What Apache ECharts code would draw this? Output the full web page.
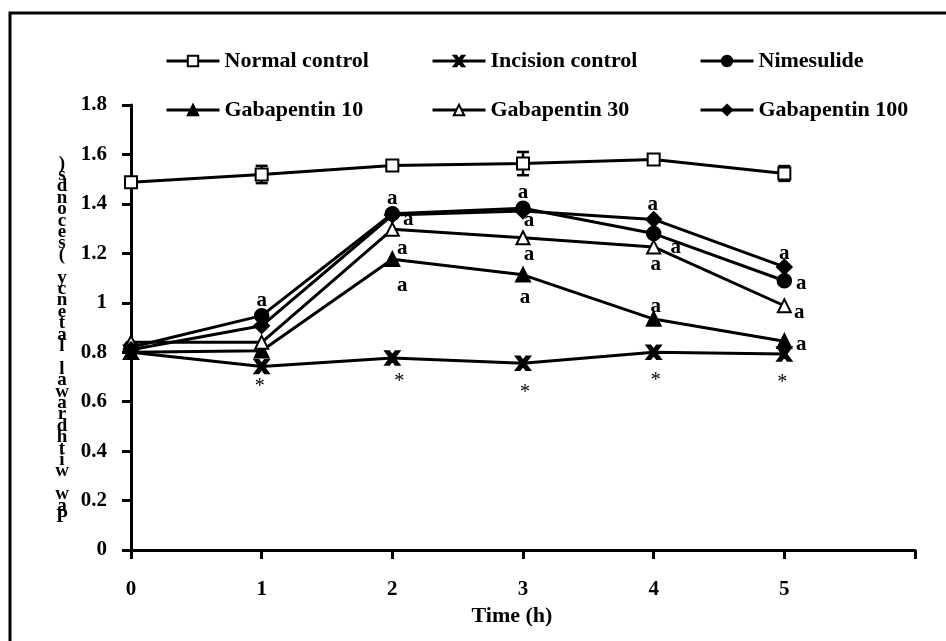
<!DOCTYPE html>
<html>
<head>
<meta charset="utf-8">
<script src="https://cdn.jsdelivr.net/npm/echarts@6/dist/echarts.min.js"></script>
<style>
  html, body { margin: 0; padding: 0; background: #fff; }
  #chart { width: 946px; height: 641px; }
</style>
</head>
<body>
<div id="chart"></div>
<script>
// 数据
var xHours = [0, 1, 2, 3, 4, 5];
var normalControl = [1.488, 1.519, 1.555, 1.563, 1.580, 1.523];
var normalErr = [0.01, 0.035, 0.02, 0.047, 0.015, 0.03];
var incisionControl = [0.80, 0.742, 0.777, 0.755, 0.800, 0.793];
var nimesulide = [0.82, 0.948, 1.360, 1.382, 1.280, 1.089];
var gaba10 = [0.80, 0.806, 1.176, 1.113, 0.934, 0.844];
var gaba30 = [0.84, 0.840, 1.297, 1.263, 1.226, 0.988];
var gaba100 = [0.81, 0.907, 1.355, 1.371, 1.337, 1.145];
// 显著性标记
var incisionMarks = ['', '*', '*', '*', '*', '*'];
var nimMarks = ['', 'a', 'a', 'a', 'a', 'a'];
var gaba10Marks = ['', '', 'a', 'a', 'a', 'a'];
var gaba30Marks = ['', '', 'a', 'a', 'a', 'a'];
var gaba100Marks = ['', '', 'a', 'a', 'a', 'a'];

var FONT = '"Liberation Serif", "Times New Roman", serif';
var yTitle = 'Paw withdrawal latency (seconds)';

// 标记相对数据点的偏移（样式）
var incisionOff = [null, [-2, 20], [7, 24], [2, 29], [2, 29], [-2, 29]];
var nimOff = [null, [0, -15], [0, -15], [0, -16], [22, 14], [17, 3]];
var gaba10Off = [null, null, [10, 26], [2, 23], [2, -13], [17, 3]];
var gaba30Off = [null, null, [10, 19], [6, 17], [2, 18], [15, 7]];
var gaba100Off = [null, null, [16, 5], [6, 10], [-1, -15], [0, -13]];

function buildData(values, marks, offsets) {
    return values.map(function (v, i) {
        var item = { value: [xHours[i], v] };
        if (marks[i]) {
            var star = marks[i] === '*';
            item.label = {
                show: true,
                formatter: marks[i],
                position: 'inside',
                offset: offsets[i],
                color: '#000',
                fontFamily: FONT,
                fontWeight: star ? 'normal' : 'bold',
                fontSize: star ? 20 : 21
            };
        }
        return item;
    });
}

function lineSeries(name, values, symbol, size, marks, offsets) {
    return {
        name: name,
        type: 'line',
        data: buildData(values, marks, offsets),
        symbol: symbol,
        symbolSize: size,
        showAllSymbol: true,
        lineStyle: { color: '#000', width: 3 },
        itemStyle: { color: '#000', borderColor: '#000', borderWidth: 2.5 },
        label: { show: false },
        emphasis: { disabled: true },
        z: 3
    };
}

var noMarks = ['', '', '', '', '', ''];
var noOff = [null, null, null, null, null, null];
var xPath = 'path://M0,0 L3,0 L6,4 L9,0 L12,0 L7.5,6 L12,12 L9,12 L6,8 L3,12 L0,12 L4.5,6 Z';

var legendCommon = {
    orient: 'vertical',
    top: 45,
    itemWidth: 53,
    itemHeight: 13,
    itemGap: 27,
    selectedMode: false,
    lineStyle: { width: 3, color: '#000' },
    textStyle: { fontFamily: FONT, fontWeight: 'bold', fontSize: 22, color: '#000', lineHeight: 22 }
};

var chart = echarts.init(document.getElementById('chart'), null, { renderer: 'canvas' });
var option = {
    backgroundColor: '#fff',
    animation: false,
    grid: { left: 131, right: 31, top: 105, bottom: 91, outerBoundsMode: 'none' },
    legend: [
        Object.assign({}, legendCommon, { left: 160, data: ['Normal control', 'Gabapentin 10'] }),
        Object.assign({}, legendCommon, { left: 426, data: ['Incision control', 'Gabapentin 30'] }),
        Object.assign({}, legendCommon, { left: 694, data: ['Nimesulide', 'Gabapentin 100'] })
    ],
    xAxis: {
        type: 'value',
        min: 0,
        max: 6,
        interval: 1,
        name: 'Time (h)',
        nameLocation: 'middle',
        nameGap: 53,
        nameTextStyle: { fontFamily: FONT, fontWeight: 'bold', fontSize: 22, color: '#000', padding: [0, 22, 0, 0] },
        axisLine: { lineStyle: { color: '#000', width: 3 } },
        axisTick: { length: 9, lineStyle: { color: '#000', width: 3 } },
        axisLabel: {
            margin: 29,
            fontFamily: FONT, fontWeight: 'bold', fontSize: 21, color: '#000',
            formatter: function (v) { return v < 6 ? String(v) : ''; }
        },
        splitLine: { show: false }
    },
    yAxis: {
        type: 'value',
        min: 0,
        max: 1.8,
        interval: 0.2,
        axisLine: { show: true, lineStyle: { color: '#000', width: 3 } },
        axisTick: { show: true, length: 9, lineStyle: { color: '#000', width: 3 } },
        axisLabel: { margin: 24, fontFamily: FONT, fontWeight: 'bold', fontSize: 21, color: '#000' },
        splitLine: { show: false }
    },
    graphic: [
        {
            type: 'rect',
            shape: { x: 10, y: 13, width: 1000, height: 1000 },
            style: { fill: 'none', stroke: '#000', lineWidth: 3 },
            silent: true
        },
        {
            type: 'text',
            x: 62,
            y: 158,
            style: {
                text: yTitle.split('').reverse().join('\n'),
                font: 'bold 19px ' + FONT,
                lineHeight: 11.4,
                textAlign: 'center',
                textVerticalAlign: 'top',
                fill: '#000'
            },
            silent: true
        }
    ],
    series: [
        {
            name: 'errNormal',
            type: 'custom',
            data: xHours.map(function (x, i) {
                return [x, normalControl[i] - normalErr[i], normalControl[i] + normalErr[i]];
            }),
            encode: { x: 0, y: [1, 2] },
            z: 2,
            renderItem: function (params, api) {
                var x = api.value(0);
                var lo = api.coord([x, api.value(1)]);
                var hi = api.coord([x, api.value(2)]);
                var w = 6, st = { stroke: '#000', lineWidth: 2.5 };
                return {
                    type: 'group',
                    children: [
                        { type: 'line', shape: { x1: lo[0], y1: lo[1], x2: hi[0], y2: hi[1] }, style: st },
                        { type: 'line', shape: { x1: lo[0] - w, y1: lo[1], x2: lo[0] + w, y2: lo[1] }, style: st },
                        { type: 'line', shape: { x1: hi[0] - w, y1: hi[1], x2: hi[0] + w, y2: hi[1] }, style: st }
                    ]
                };
            }
        },
        lineSeries('Normal control', normalControl, 'emptyRect', 12, noMarks, noOff),
        lineSeries('Incision control', incisionControl, xPath, 13, incisionMarks, incisionOff),
        lineSeries('Nimesulide', nimesulide, 'circle', 13, nimMarks, nimOff),
        lineSeries('Gabapentin 10', gaba10, 'triangle', 13, gaba10Marks, gaba10Off),
        lineSeries('Gabapentin 30', gaba30, 'emptyTriangle', 13, gaba30Marks, gaba30Off),
        lineSeries('Gabapentin 100', gaba100, 'diamond', 14, gaba100Marks, gaba100Off)
    ]
};
chart.setOption(option);
</script>
</body>
</html>
